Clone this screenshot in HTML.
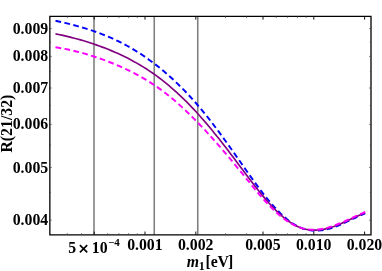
<!DOCTYPE html>
<html><head><meta charset="utf-8"><title>plot</title>
<style>html,body{margin:0;padding:0;background:#fff;overflow:hidden}body{width:382px;height:271px;position:relative;font-family:"Liberation Serif",serif}.t{font-family:"Liberation Serif",serif;font-weight:bold;font-size:15.8px;fill:#000}</style>
</head><body>
<svg width="382" height="271" viewBox="0 0 382 271" style="position:absolute;left:0;top:0;will-change:transform">
<rect width="382" height="271" fill="#fff"/>
<line x1="94.0" y1="16.35" x2="94.0" y2="234.85" stroke="#808080" stroke-width="1.6"/>
<line x1="154.25" y1="16.35" x2="154.25" y2="234.85" stroke="#808080" stroke-width="1.6"/>
<line x1="197.75" y1="16.35" x2="197.75" y2="234.85" stroke="#808080" stroke-width="1.6"/>
<path d="M55.5,20.73 L58.6,21.44 L61.8,22.17 L64.9,22.91 L68.0,23.67 L71.1,24.46 L74.3,25.28 L77.4,26.12 L80.5,27.00 L83.7,27.91 L86.8,28.86 L89.9,29.85 L93.0,30.89 L96.2,31.97 L99.3,33.10 L102.4,34.29 L105.6,35.53 L108.7,36.83 L111.8,38.18 L114.9,39.61 L118.1,41.10 L121.2,42.65 L124.3,44.28 L127.5,45.98 L130.6,47.75 L133.7,49.59 L136.8,51.50 L140.0,53.49 L143.1,55.56 L146.2,57.70 L149.3,59.93 L152.5,62.23 L155.6,64.61 L158.7,67.08 L161.9,69.63 L165.0,72.26 L168.1,74.98 L171.2,77.79 L174.4,80.68 L177.5,83.67 L180.6,86.74 L183.8,89.91 L186.9,93.16 L190.0,96.51 L193.1,99.96 L196.3,103.50 L199.4,107.13 L202.5,110.87 L205.7,114.70 L208.8,118.63 L211.9,122.65 L215.0,126.75 L218.2,130.92 L221.3,135.17 L224.4,139.46 L227.6,143.81 L230.7,148.20 L233.8,152.63 L236.9,157.08 L240.1,161.55 L243.2,166.03 L246.3,170.50 L249.5,174.94 L252.6,179.33 L255.7,183.66 L258.8,187.90 L262.0,192.04 L265.1,196.06 L268.2,199.93 L271.4,203.65 L274.5,207.18 L277.6,210.52 L280.7,213.65 L283.9,216.55 L287.0,219.22 L290.1,221.63 L293.2,223.78 L296.4,225.64 L299.5,227.21 L302.6,228.48 L305.8,229.44 L308.9,230.12 L312.0,230.53 L315.1,230.69 L318.3,230.61 L321.4,230.31 L324.5,229.80 L327.7,229.10 L330.8,228.23 L333.9,227.19 L337.0,226.02 L340.2,224.74 L343.3,223.38 L346.4,221.95 L349.6,220.47 L352.7,218.99 L355.8,217.51 L358.9,216.07 L362.1,214.68 L365.2,213.37" fill="none" stroke="#0000ff" stroke-width="1.95" stroke-dasharray="5.7 3.45"/>
<path d="M55.5,33.84 L58.6,34.49 L61.8,35.17 L64.9,35.88 L68.0,36.62 L71.1,37.39 L74.3,38.19 L77.4,39.03 L80.5,39.91 L83.7,40.82 L86.8,41.77 L89.9,42.76 L93.0,43.79 L96.2,44.86 L99.3,45.97 L102.4,47.13 L105.6,48.33 L108.7,49.58 L111.8,50.87 L114.9,52.22 L118.1,53.61 L121.2,55.05 L124.3,56.55 L127.5,58.11 L130.6,59.73 L133.7,61.41 L136.8,63.15 L140.0,64.97 L143.1,66.86 L146.2,68.82 L149.3,70.86 L152.5,72.98 L155.6,75.18 L158.7,77.47 L161.9,79.85 L165.0,82.31 L168.1,84.88 L171.2,87.53 L174.4,90.28 L177.5,93.12 L180.6,96.05 L183.8,99.07 L186.9,102.18 L190.0,105.37 L193.1,108.65 L196.3,112.02 L199.4,115.47 L202.5,119.01 L205.7,122.62 L208.8,126.32 L211.9,130.09 L215.0,133.93 L218.2,137.84 L221.3,141.79 L224.4,145.80 L227.6,149.86 L230.7,153.95 L233.8,158.07 L236.9,162.21 L240.1,166.38 L243.2,170.56 L246.3,174.73 L249.5,178.88 L252.6,182.98 L255.7,187.03 L258.8,190.99 L262.0,194.86 L265.1,198.60 L268.2,202.21 L271.4,205.67 L274.5,208.96 L277.6,212.05 L280.7,214.95 L283.9,217.63 L287.0,220.08 L290.1,222.29 L293.2,224.24 L296.4,225.93 L299.5,227.33 L302.6,228.44 L305.8,229.27 L308.9,229.82 L312.0,230.12 L315.1,230.19 L318.3,230.02 L321.4,229.66 L324.5,229.09 L327.7,228.36 L330.8,227.46 L333.9,226.42 L337.0,225.25 L340.2,223.98 L343.3,222.63 L346.4,221.22 L349.6,219.77 L352.7,218.30 L355.8,216.83 L358.9,215.39 L362.1,213.99 L365.2,212.66" fill="none" stroke="#800080" stroke-width="1.65"/>
<path d="M55.5,47.22 L58.6,47.74 L61.8,48.30 L64.9,48.91 L68.0,49.55 L71.1,50.24 L74.3,50.97 L77.4,51.74 L80.5,52.55 L83.7,53.41 L86.8,54.31 L89.9,55.25 L93.0,56.23 L96.2,57.25 L99.3,58.32 L102.4,59.42 L105.6,60.57 L108.7,61.77 L111.8,63.00 L114.9,64.28 L118.1,65.59 L121.2,66.96 L124.3,68.37 L127.5,69.84 L130.6,71.36 L133.7,72.94 L136.8,74.58 L140.0,76.28 L143.1,78.06 L146.2,79.91 L149.3,81.83 L152.5,83.84 L155.6,85.92 L158.7,88.10 L161.9,90.36 L165.0,92.71 L168.1,95.16 L171.2,97.71 L174.4,100.34 L177.5,103.06 L180.6,105.86 L183.8,108.74 L186.9,111.70 L190.0,114.73 L193.1,117.83 L196.3,121.00 L199.4,124.23 L202.5,127.52 L205.7,130.87 L208.8,134.27 L211.9,137.73 L215.0,141.23 L218.2,144.78 L221.3,148.38 L224.4,152.03 L227.6,155.72 L230.7,159.44 L233.8,163.21 L236.9,167.02 L240.1,170.86 L243.2,174.73 L246.3,178.61 L249.5,182.48 L252.6,186.32 L255.7,190.12 L258.8,193.84 L262.0,197.47 L265.1,200.99 L268.2,204.38 L271.4,207.62 L274.5,210.68 L277.6,213.55 L280.7,216.22 L283.9,218.68 L287.0,220.92 L290.1,222.93 L293.2,224.69 L296.4,226.19 L299.5,227.42 L302.6,228.37 L305.8,229.06 L308.9,229.49 L312.0,229.68 L315.1,229.65 L318.3,229.41 L321.4,228.98 L324.5,228.37 L327.7,227.60 L330.8,226.68 L333.9,225.63 L337.0,224.47 L340.2,223.22 L343.3,221.89 L346.4,220.50 L349.6,219.07 L352.7,217.62 L355.8,216.16 L358.9,214.72 L362.1,213.31 L365.2,211.95" fill="none" stroke="#ff00ff" stroke-width="1.95" stroke-dasharray="5.7 3.45"/>
<path d="M49.85,15.700000000000001V235.5M371.0,15.700000000000001V235.5M49.25,16.35H371.65M49.25,234.85H371.65" fill="none" stroke="#000" stroke-width="1.3"/>
<path d="M94.2,234.85v-3.3 M94.2,16.35v3.3 M145.0,234.85v-3.3 M145.0,16.35v3.3 M195.8,234.85v-3.3 M195.8,16.35v3.3 M263.0,234.85v-3.3 M263.0,16.35v3.3 M313.8,234.85v-3.3 M313.8,16.35v3.3 M364.6,234.85v-3.3 M364.6,16.35v3.3" stroke="#111" stroke-width="1" fill="none"/>
<path d="M67.3,234.85v-1.7 M67.3,16.35v1.7 M81.5,234.85v-1.7 M81.5,16.35v1.7 M107.6,234.85v-1.7 M107.6,16.35v1.7 M118.9,234.85v-1.7 M118.9,16.35v1.7 M128.6,234.85v-1.7 M128.6,16.35v1.7 M137.3,234.85v-1.7 M137.3,16.35v1.7 M225.5,234.85v-1.7 M225.5,16.35v1.7 M246.6,234.85v-1.7 M246.6,16.35v1.7 M276.3,234.85v-1.7 M276.3,16.35v1.7 M287.6,234.85v-1.7 M287.6,16.35v1.7 M297.4,234.85v-1.7 M297.4,16.35v1.7 M306.1,234.85v-1.7 M306.1,16.35v1.7 M49.85,28.6h1.9 M371.0,28.6h-1.9 M49.85,56.4h1.9 M371.0,56.4h-1.9 M49.85,88.0h1.9 M371.0,88.0h-1.9 M49.85,124.4h1.9 M371.0,124.4h-1.9 M49.85,167.5h1.9 M371.0,167.5h-1.9 M49.85,220.2h1.9 M371.0,220.2h-1.9 M49.85,42.1h1.2 M371.0,42.1h-1.2 M49.85,71.7h1.2 M371.0,71.7h-1.2 M49.85,105.5h1.2 M371.0,105.5h-1.2 M49.85,145.0h1.2 M371.0,145.0h-1.2 M49.85,192.4h1.2 M371.0,192.4h-1.2" stroke="#444" stroke-width="0.7" fill="none"/>
<text x="48.2" y="33.6" text-anchor="end" class="t">0.009</text>
<text x="48.2" y="61.4" text-anchor="end" class="t">0.008</text>
<text x="48.2" y="93.0" text-anchor="end" class="t">0.007</text>
<text x="48.2" y="129.4" text-anchor="end" class="t">0.006</text>
<text x="48.2" y="172.5" text-anchor="end" class="t">0.005</text>
<text x="48.2" y="225.2" text-anchor="end" class="t">0.004</text>
<text x="144.9" y="249.6" text-anchor="middle" class="t">0.001</text>
<text x="195.7" y="249.6" text-anchor="middle" class="t">0.002</text>
<text x="262.9" y="249.6" text-anchor="middle" class="t">0.005</text>
<text x="313.7" y="249.6" text-anchor="middle" class="t">0.010</text>
<text x="364.5" y="249.6" text-anchor="middle" class="t">0.020</text>
<text x="68.3" y="252.8" class="t">5<tspan dx="15.6">10</tspan><tspan dy="-6.6" dx="0.3" style="font-size:11px">−4</tspan></text>
<path d="M79.9,245.1L87.2,252.4M87.2,245.1L79.9,252.4" stroke="#000" stroke-width="1.6" fill="none"/>
<text x="186.8" y="266.5" class="t"><tspan style="font-style:italic">m</tspan><tspan dy="3.4" dx="-0.3" style="font-size:12px">1</tspan><tspan dy="-3.4" dx="0.6">[e</tspan><tspan dx="-0.2">V</tspan><tspan dx="-1">]</tspan></text>
<text transform="translate(12.4,123.6) rotate(-90)" text-anchor="middle" class="t">R(21/32)</text>
</svg>
</body></html>
